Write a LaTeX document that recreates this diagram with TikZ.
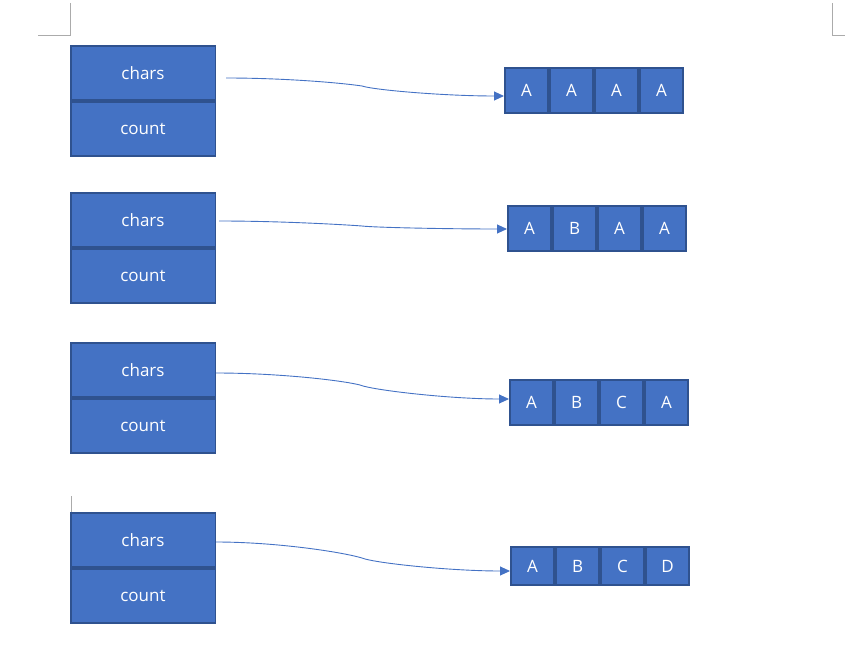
\documentclass[tikz,border=0pt]{standalone}
\usepackage{fontspec}
\setmainfont{Open Sans}
\usetikzlibrary{arrows.meta,calc}
\definecolor{boxfill}{HTML}{4472C4}
\definecolor{boxline}{HTML}{2F528F}
\definecolor{markgray}{HTML}{ABABAB}
\begin{document}
\begin{tikzpicture}[x=1pt,y=-1pt,
  field/.style={draw=boxline,fill=boxfill,line width=1.6pt,minimum width=144.6pt,minimum height=54.4pt,inner sep=0pt,text=white,font=\fontsize{17}{19}\selectfont},
  cell/.style={draw=boxline,fill=boxfill,line width=1.6pt,minimum width=43.4pt,inner sep=0pt,text=white,font=\fontsize{17}{19}\selectfont},
  link/.style={draw=boxfill,line width=0.9pt,-{Triangle[length=10pt,width=9pt]}},
  pagemark/.style={draw=markgray,line width=0.8pt}]
\useasboundingbox (0,0) rectangle (845,666);
% page corner marks
\draw[pagemark] (70,3) -- (70,35) -- (38,35);
\draw[pagemark] (832,3) -- (832,35) -- (845,35);
\draw[pagemark] (71,496) -- (71,514);
% structs
\foreach \i/\t in {1/45,2/192,3/342,4/512} {
  \node[field] (ch\i) at (143,\t+28) {chars};
  \node[field] (co\i) at (143,\t+84) {count};
}
% arrays
\foreach \l [count=\j] in {A,A,A,A}
  \node[cell,minimum height=45.4pt] (ra\j) at ({504+22.5+45*(\j-1)},90.5) {\l};
\foreach \l [count=\j] in {A,B,A,A}
  \node[cell,minimum height=45.4pt] (rb\j) at ({507+22.5+45*(\j-1)},228.5) {\l};
\foreach \l [count=\j] in {A,B,C,A}
  \node[cell,minimum height=45.4pt] (rc\j) at ({509+22.5+45*(\j-1)},402.5) {\l};
\foreach \l [count=\j] in {A,B,C,D}
  \node[cell,minimum height=38.4pt] (rd\j) at ({510+22.5+45*(\j-1)},566) {\l};
% connector anchors
\coordinate (s1) at (226,78);  \coordinate (k1) at (362,86);
\coordinate (s2) at (219,221); \coordinate (k2) at (362,226);
\coordinate (s3) at (216,373); \coordinate (k3) at (360,385);
\coordinate (s4) at (216,542); \coordinate (k4) at (362,558);
\draw[link] (s1) .. controls +(60,0) and +(-20,-3) .. (k1) .. controls +(12,4) and +(-60,0) .. ([yshift=-5.5pt]ra1.west);
\draw[link] (s2) .. controls +(60,0) and +(-20,-1.5) .. (k2) .. controls +(12,1.5) and +(-60,0) .. ([yshift=-0.5pt]rb1.west);
\draw[link] (s3) .. controls +(60,0) and +(-20,-5) .. (k3) .. controls +(12,5) and +(-60,0) .. ([yshift=3.5pt]rc1.west);
\draw[link] (s4) .. controls +(60,0) and +(-20,-6) .. (k4) .. controls +(12,5) and +(-60,0) .. ([yshift=-5pt]rd1.west);
\end{tikzpicture}
\end{document}
